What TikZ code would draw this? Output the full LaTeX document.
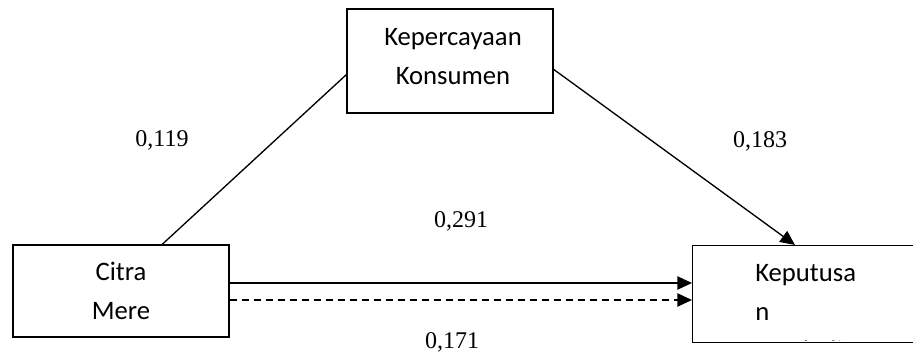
\documentclass[tikz,border=0pt]{standalone}
\usepackage{fontspec}
\setmainfont{Liberation Serif}
\newfontfamily\boxfont{Carlito}
\usetikzlibrary{arrows.meta,calc}

\begin{document}
\begin{tikzpicture}[x=0.75pt,y=0.75pt,yscale=-1,
  varbox/.style={draw,line width=1.1pt,rectangle,inner sep=0pt},
  boxtext/.style={font=\boxfont\fontsize{20}{29.25}\selectfont,inner sep=0pt},
  coef/.style={font=\fontsize{18}{21}\selectfont,inner sep=0pt,anchor=base},
  link/.style={line width=1pt},
  tip/.style={-{Triangle[length=11pt,width=10pt]}}]
\useasboundingbox (0,0) rectangle (913,352);
\clip (0,0) rectangle (913,352);

%Shape: Rectangle [kepercayaan konsumen]
\node [varbox,minimum width=154.5pt,minimum height=78pt] (kons) at (450,61) {};
%Shape: Rectangle [citra merek]
\node [varbox,minimum width=162pt,minimum height=69pt] (citra) at (121,291) {};
%Shape: Rectangle [keputusan pembelian]
\node [varbox,minimum width=180pt,minimum height=72.75pt,anchor=north west] (kep) at (692,245) {};

% Text Node
\node [boxtext,align=center,anchor=base] (konstext) at (453,85) {Kepercayaan\\Konsumen};
% Text Node
\node [boxtext,align=center,anchor=base] (citratext) at (121,320) {Citra\\Mere};
% Text Node
\begin{scope}
\clip (692,245) rectangle (913,341);
\node [boxtext,align=left,anchor=base west] (keptext) at (755,359) {Keputusa\\n\\Pembelian};
\end{scope}

%Connectors
\coordinate (c1) at ($(citra.north west)!0.69!(citra.north east)$);
\coordinate (k1) at ($(kons.north west)!0.63!(kons.south west)$);
\coordinate (k2) at ($(kons.north east)!0.58!(kons.south east)$);
\coordinate (p1) at ($(kep.north west)+(103,0)$);
\coordinate (s1) at ($(citra.east)+(0,-8)$);
\coordinate (d1) at ($(citra.east)+(0,9)$);
\draw [link] (c1) -- (k1);
\draw [link,tip] (k2) -- (p1);
\draw [link,tip] (s1) -- (s1 -| kep.west);
\draw [link,tip,dash pattern=on 5.25pt off 3.75pt] (d1) -- (d1 -| kep.west);

% Text Node
\node [coef] (b1) at (162,147) {0,119};
% Text Node
\node [coef] (b2) at (760,148) {0,183};
% Text Node
\node [coef] (b3) at (461,228) {0,291};
% Text Node
\node [coef] (b4) at (452,349) {0,171};

\end{tikzpicture}
\end{document}
